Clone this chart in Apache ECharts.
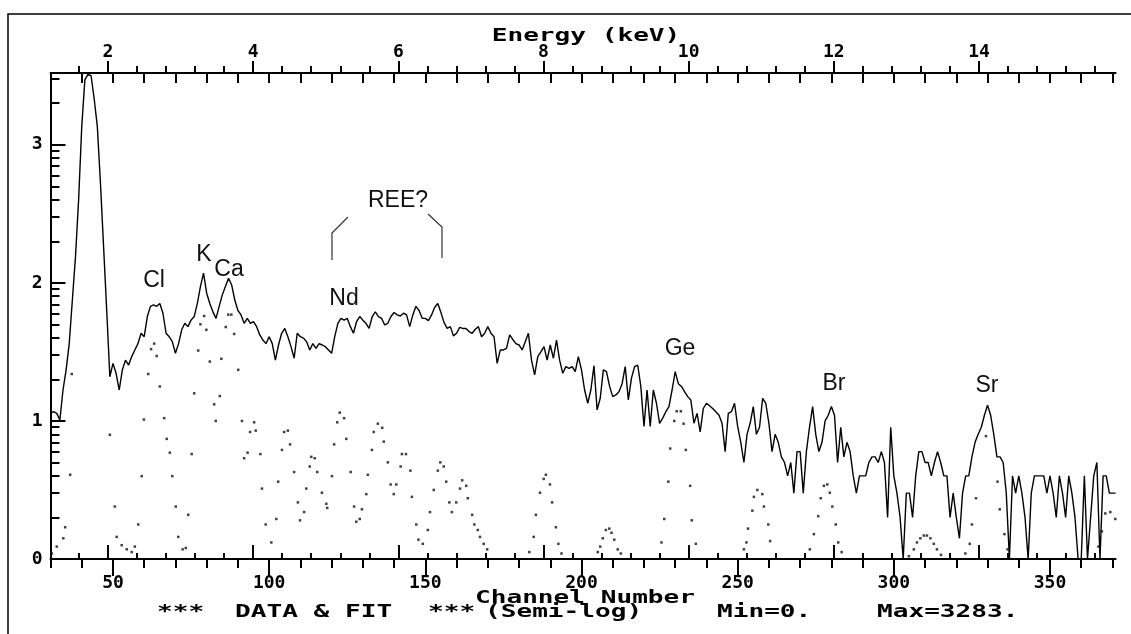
<!DOCTYPE html>
<html>
<head>
<meta charset="utf-8">
<script src="https://cdn.jsdelivr.net/npm/echarts@6/dist/echarts.min.js"></script>
<style>
html,body{margin:0;padding:0;background:#fff;}
#chart{width:1131px;height:634px;}
</style>
</head>
<body>
<div id="chart"></div>
<script>
// ---------------- DATA ----------------
// Semi-log spectrum: log10(counts) per channel, starting at channel 30
const firstChannel = 30;
// channels 30 - 115
const spectrum1 = [1.055,1.067,1.055,1.007,1.224,1.37,1.562,1.876,2.19,2.60,3.13,3.47,3.51,3.50,3.33,3.13,2.72,2.26,1.80,1.32,
1.417,1.345,1.224,1.37,1.44,1.405,1.466,1.514,1.56,1.635,1.61,1.756,1.83,1.84,1.83,1.85,1.78,1.635,1.61,1.574,
1.49,1.56,1.66,1.707,1.683,1.73,1.756,1.85,1.973,2.07,1.925,1.85,1.79,1.743,1.83,1.913,1.973,2.033,1.985,1.876,
1.80,1.768,1.707,1.743,1.707,1.72,1.683,1.623,1.586,1.56,1.61,1.56,1.44,1.55,1.635,1.67,1.61,1.538,1.454,1.635,
1.61,1.60,1.574,1.514,1.56,1.526];
// channels 116 - 201
const spectrum2 = [1.56,1.55,1.538,1.514,1.49,1.61,1.707,1.743,1.73,1.743,1.683,1.635,1.72,1.756,1.73,1.707,1.67,1.756,1.79,1.756,
1.743,1.695,1.707,1.756,1.785,1.768,1.76,1.78,1.768,1.683,1.768,1.83,1.80,1.743,1.743,1.727,1.768,1.823,1.85,1.785,
1.712,1.67,1.683,1.616,1.635,1.678,1.67,1.67,1.647,1.635,1.664,1.683,1.61,1.635,1.683,1.635,1.61,1.417,1.514,1.514,
1.526,1.623,1.59,1.56,1.55,1.514,1.574,1.635,1.44,1.333,1.466,1.50,1.538,1.44,1.55,1.454,1.586,1.44,1.345,1.393,
1.38,1.393,1.357,1.466,1.37,1.224];
// channels 202 - 288
const spectrum3 = [1.128,1.224,1.40,1.08,1.164,1.37,1.357,1.25,1.176,1.188,1.212,1.27,1.393,1.152,1.31,1.393,1.405,1.25,0.96,1.224,
0.96,1.224,1.128,0.983,1.02,1.067,1.104,1.224,1.357,1.27,1.25,1.212,1.176,1.152,0.983,1.055,0.92,1.09,1.128,1.11,
1.09,1.067,1.043,0.983,0.778,1.055,1.067,1.128,0.96,0.845,0.699,0.903,0.983,1.104,0.903,0.954,1.164,1.128,0.983,0.778,
0.903,0.845,0.740,0.699,0.602,0.699,0.477,0.778,0.778,0.477,0.778,0.954,1.104,0.903,0.778,0.845,1.0,1.041,1.104,1.041,
0.699,0.954,0.740,0.845,0.778,0.602,0.477];
// channels 289 - 371
const spectrum4 = [0.602,0.602,0.602,0.699,0.740,0.740,0.699,0.778,0.699,0.301,0.954,0.602,0.477,0.301,0,0.477,0.477,0.301,0.602,0.778,
0.778,0.699,0.699,0.602,0.699,0.778,0.699,0.602,0.602,0.301,0.477,0.301,0.15,0.477,0.602,0.602,0.740,0.845,0.903,0.954,
1.041,1.114,1.041,0.903,0.740,0.740,0.699,0.477,0,0.602,0.477,0.602,0.477,0.301,0,0.477,0.602,0.602,0.602,0.602,
0.477,0.602,0.477,0.301,0.602,0.477,0.301,0.602,0.477,0.301,0,0,0.602,0,0.301,0.602,0.699,0,0.602,0.602,
0.477,0.477,0.477];

// Fit (dotted): channel and log10(counts)
const fitChannels = [30.4,32.0,34.1,34.7,36.3,36.8,49.0,50.6,51.2,52.8,54.4,56.0,57.0,58.1,59.2,59.9,61.3,62.2,63.2,64.0,
65.0,66.4,67.2,68.2,69.0,70.1,70.9,72.3,73.3,74.1,75.2,76.0,77.3,78.0,79.2,79.9,81.0,82.4,82.9,84.2,
84.7,86.1,86.9,87.9,88.8,90.1,91.3,92.0,93.1,93.9,95.2,95.7,97.2,97.7,98.9,100.7,102.3,102.9,104.1,104.8,
106.0,106.7,108.0,109.2,109.9,111.2,111.9,113.0,113.5,114.6,115.4,
116.9,118.3,118.6,120.1,120.8,121.8,122.6,124.0,124.7,126.1,127.2,127.9,129.0,129.7,131.1,131.6,132.9,133.5,134.8,136.2,
136.7,138.0,138.9,139.9,140.7,142.1,142.5,143.8,145.2,145.7,147.1,147.8,149.2,150.8,151.5,152.7,154.0,154.8,155.9,156.7,
157.7,158.5,159.9,161.1,161.8,163.1,163.6,165.0,165.7,166.8,167.5,168.7,169.8,
183.3,184.7,185.4,186.7,187.9,188.6,189.9,190.6,191.8,192.6,193.6,
205.2,206.0,206.8,207.8,208.9,209.6,210.5,211.6,212.6,
225.6,226.5,227.8,228.4,229.7,230.5,231.8,232.7,233.4,234.8,235.3,236.6,
252.0,252.8,253.3,254.7,255.2,256.3,257.9,258.4,259.8,260.4,
273.1,274.4,275.8,276.6,277.6,278.7,279.5,280.3,281.4,282.2,283.3,
304.8,306.4,307.4,308.5,309.6,310.6,311.7,312.8,313.8,315.1,
322.9,324.3,325.0,326.3,329.5,333.2,333.9,335.4,336.4,
365.5,366.6,367.7,369.3,370.9];
const fitLogCounts = [0.04,0.09,0.15,0.23,0.61,1.34,0.90,0.38,0.16,0.10,0.07,0.05,0.09,0.25,0.60,1.01,1.34,1.52,1.56,1.47,
1.25,1.02,0.87,0.77,0.60,0.38,0.16,0.07,0.08,0.32,0.76,1.20,1.51,1.70,1.76,1.66,1.43,1.12,1.00,1.18,
1.45,1.68,1.77,1.77,1.63,1.37,1.00,0.73,0.77,0.92,0.99,0.93,0.76,0.51,0.25,0.12,0.29,0.56,0.79,0.92,
0.93,0.83,0.63,0.41,0.28,0.34,0.51,0.67,0.74,0.73,0.63,
0.48,0.40,0.37,0.60,0.83,0.99,1.06,1.02,0.87,0.63,0.38,0.27,0.29,0.36,0.47,0.61,0.79,0.92,0.98,0.95,
0.85,0.70,0.54,0.47,0.54,0.67,0.76,0.76,0.64,0.45,0.25,0.14,0.11,0.21,0.34,0.50,0.64,0.70,0.67,0.56,
0.41,0.34,0.41,0.51,0.57,0.53,0.44,0.32,0.25,0.21,0.16,0.11,0.07,
0.05,0.16,0.32,0.48,0.58,0.61,0.54,0.41,0.23,0.11,0.04,
0.05,0.09,0.15,0.21,0.22,0.19,0.14,0.07,0.04,
0.12,0.29,0.56,0.80,1.00,1.07,1.07,0.98,0.79,0.53,0.28,0.11,
0.07,0.12,0.22,0.35,0.45,0.50,0.47,0.38,0.25,0.13,
0.07,0.18,0.31,0.44,0.53,0.54,0.48,0.38,0.25,0.12,0.05,
0.02,0.07,0.12,0.15,0.17,0.17,0.15,0.11,0.07,0.03,
0.04,0.11,0.25,0.44,0.89,0.56,0.36,0.18,0.07,
0.09,0.20,0.33,0.34,0.29];

// Axes / tick labels
const channelMin = 30, channelMax = 371;
const channelLabels = [50,100,150,200,250,300,350];
const channelMinorTicks = [30,40,50,60,70,80,90,100,110,120,130,140,150,160,170,180,190,200,210,220,230,240,250,260,270,280,290,300,310,320,330,340,350,360,370];
const energyLabels = [2,4,6,8,10,12,14];
const energyMinorTicks = [1.2,1.6,2.0,2.4,2.8,3.2,3.6,4.0,4.4,4.8,5.2,5.6,6.0,6.4,6.8,7.2,7.6,8.0,8.4,8.8,9.2,9.6,10.0,10.4,10.8,11.2,11.6,12.0,12.4,12.8,13.2,13.6,14.0,14.4,14.8,15.2,15.6];
const logLabels = [0,1,2,3];
const yMax = 3.52; // log10(Max=3283)
// energy calibration (keV = offset + gain * channel)
const keVOffset = -0.0827, keVPerChannel = 0.04303;

const peakLabels = ['Cl','K','Ca','Nd','REE?','Ge','Br','Sr'];
const footerTexts = ['***','DATA & FIT','***','(Semi-log)','Min=0.','Max=3283.'];

// -------------- BUILD ---------------
const logCounts = spectrum1.concat(spectrum2, spectrum3, spectrum4);
const lineData = logCounts.map((v, i) => [firstChannel + i, v]);
const fitData = fitChannels.map((c, i) => [c, fitLogCounts[i]]);
const logMinorTicks = [];
for (let d = 0; d <= 3; d++) for (let k = 2; k <= 9; k++) {
  const v = d + Math.log10(k); if (v <= yMax) logMinorTicks.push(v);
}
const eMin = keVOffset + keVPerChannel * channelMin;
const eMax = keVOffset + keVPerChannel * channelMax;

const BLACK = '#000';
const monoFont = '"DejaVu Sans Mono", "Liberation Mono", monospace';
const tickStyle = {color: BLACK, width: 2};
function ax(o) {
  return Object.assign({
    type: 'value', splitLine: {show: false}, axisLine: {show: false},
    axisLabel: {show: false}, axisTick: {show: false}
  }, o);
}
const labelStyle = {color: BLACK, fontFamily: monoFont, fontWeight: 'bold', fontSize: 18};

const xAxes = [
  // bottom channel axis (ticks point down, labels)
  ax({min: channelMin, max: channelMax, position: 'bottom',
      axisLine: {show: true, onZero: false, lineStyle: {color: BLACK, width: 2}},
      axisTick: {show: true, inside: false, length: 9, lineStyle: tickStyle, customValues: channelMinorTicks},
      axisLabel: Object.assign({show: true, margin: 15, customValues: channelLabels}, labelStyle)}),
  ax({min: channelMin, max: channelMax, position: 'bottom',
      axisTick: {show: true, inside: false, length: 16, lineStyle: tickStyle, customValues: channelLabels}}),
  // top channel ticks pointing down into plot
  ax({min: channelMin, max: channelMax, position: 'top',
      axisLine: {show: true, onZero: false, lineStyle: {color: BLACK, width: 2}},
      axisTick: {show: true, inside: true, length: 10, lineStyle: tickStyle, customValues: channelMinorTicks}}),
  ax({min: channelMin, max: channelMax, position: 'top',
      axisTick: {show: true, inside: true, length: 17, lineStyle: tickStyle, customValues: channelLabels}}),
  // top energy axis (ticks point up, labels)
  ax({min: eMin, max: eMax, position: 'top',
      axisTick: {show: true, inside: false, length: 7, lineStyle: tickStyle, customValues: energyMinorTicks},
      axisLabel: Object.assign({show: true, margin: 12, customValues: energyLabels}, labelStyle)}),
  ax({min: eMin, max: eMax, position: 'top',
      axisTick: {show: true, inside: false, length: 12, lineStyle: tickStyle, customValues: energyLabels}}),
  // bottom energy ticks pointing up into plot
  ax({min: eMin, max: eMax, position: 'bottom',
      axisTick: {show: true, inside: true, length: 6, lineStyle: tickStyle, customValues: energyMinorTicks}}),
  ax({min: eMin, max: eMax, position: 'bottom',
      axisTick: {show: true, inside: true, length: 14, lineStyle: tickStyle, customValues: energyLabels}})
];

const yAxes = [
  ax({min: 0, max: yMax, position: 'left',
      axisLine: {show: true, onZero: false, lineStyle: {color: BLACK, width: 2}},
      axisTick: {show: true, inside: true, length: 15, lineStyle: tickStyle, customValues: logLabels},
      axisLabel: Object.assign({show: true, margin: 8, customValues: logLabels}, labelStyle)}),
  ax({min: 0, max: yMax, position: 'left',
      axisTick: {show: true, inside: true, length: 9, lineStyle: tickStyle, customValues: logMinorTicks}})
];

function stretchText(text, x, y, align) {
  return {type: 'text', x: x, y: y, scaleX: 1.45, z: 10,
    style: {text: text, fill: BLACK, font: 'bold 18px ' + monoFont,
      textAlign: align, textVerticalAlign: 'middle', align: align, verticalAlign: 'middle'}};
}
function peakText(text, x, y) {
  return {type: 'text', x: x, y: y, z: 10,
    style: {text: text, fill: '#111', font: '23px "Liberation Sans", Arial, sans-serif',
      textAlign: 'center', textVerticalAlign: 'middle', align: 'center', verticalAlign: 'middle'}};
}

const graphics = [
  // outer frame
  {type: 'polyline', z: 5, shape: {points: [[8, 640], [8, 14], [1140, 14]]}, style: {stroke: BLACK, lineWidth: 1.5, fill: null}},
  stretchText('Energy (keV)', 586, 36, 'center'),
  stretchText('Channel Number', 585, 598, 'center'),
  stretchText(footerTexts[0], 157, 612, 'left'),
  stretchText(footerTexts[1], 235, 612, 'left'),
  stretchText(footerTexts[2], 428, 612, 'left'),
  stretchText(footerTexts[3], 485, 612, 'left'),
  stretchText(footerTexts[4], 717, 612, 'left'),
  stretchText(footerTexts[5], 877, 612, 'left'),
  peakText(peakLabels[0], 154, 281),
  peakText(peakLabels[1], 204, 255),
  peakText(peakLabels[2], 229, 270),
  peakText(peakLabels[3], 344, 299),
  peakText(peakLabels[4], 398, 201),
  peakText(peakLabels[5], 680, 349),
  peakText(peakLabels[6], 834, 384),
  peakText(peakLabels[7], 987, 386),
  {type: 'polyline', z: 10, shape: {points: [[348, 217], [332, 233], [332, 260]]}, style: {stroke: '#333', lineWidth: 1.2, fill: null}},
  {type: 'polyline', z: 10, shape: {points: [[428, 214], [442, 227], [442, 258]]}, style: {stroke: '#333', lineWidth: 1.2, fill: null}}
];

const chart = echarts.init(document.getElementById('chart'), null, {renderer: 'canvas'});
chart.setOption({
  animation: false,
  backgroundColor: '#fff',
  grid: {left: 50.5, right: 15.4, top: 73, bottom: 75, containLabel: false},
  xAxis: xAxes,
  yAxis: yAxes,
  series: [
    {type: 'line', xAxisIndex: 0, yAxisIndex: 0, data: lineData,
     showSymbol: false, symbol: 'none', lineStyle: {color: BLACK, width: 1.4}, z: 3},
    {type: 'scatter', xAxisIndex: 0, yAxisIndex: 0, data: fitData, symbol: 'rect', symbolSize: 2.5,
     itemStyle: {color: '#111'}, z: 2}
  ],
  graphic: graphics
});
</script>
</body>
</html>
